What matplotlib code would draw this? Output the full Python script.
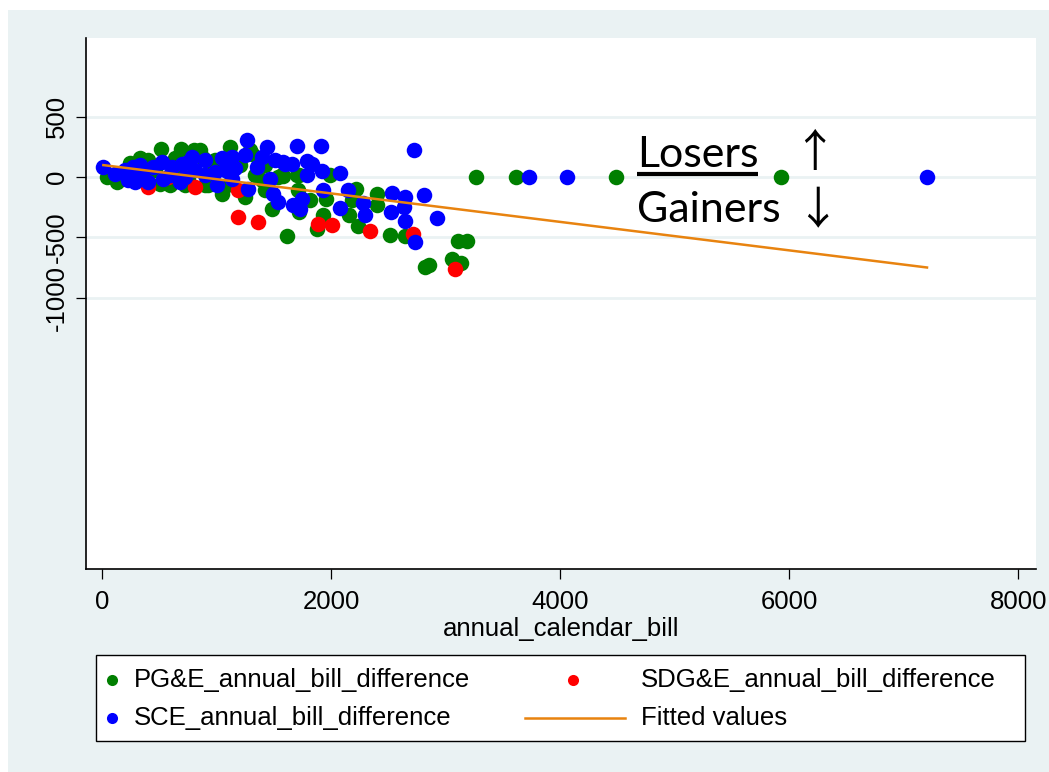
import numpy as np
import matplotlib
matplotlib.use("Agg")
import matplotlib.pyplot as plt
from matplotlib.lines import Line2D
from matplotlib.patches import Rectangle

plt.rcParams['font.family'] = ['Liberation Sans', 'DejaVu Sans']
plt.rcParams['axes.unicode_minus'] = False

# values
pge_x = [38, 126, 126, 199, 242, 329, 372, 402, 418, 461, 504, 510, 591, 634, 635, 685,
         722, 751, 801, 853, 882, 897, 926, 941, 983, 1043, 1087, 1115, 1202, 1246, 1290,
         1305, 1334, 1395, 1421, 1421, 1480, 1537, 1567, 1578, 1611, 1698, 1712, 1721,
         1721, 1814, 1873, 1930, 1954, 1989, 2155, 2178, 2216, 2236, 2397, 2402, 2513,
         2644, 2821, 2856, 3052, 3109, 3133, 3183, 3265, 3614, 4487, 5928]
pge_y = [0, 28, -41, -11, 112, 153, 6, 138, 56, 56, -55, 230, -69, 14, 155, 235,
         -69, -27, 221, 221, 153, -69, -69, 56, 138, -138, -69, 249, 97, -166, 225,
         194, 14, -27, 97, -110, -262, 0, 14, 6, -489, 14, -104, 14,
         -290, -193, -428, -318, -179, 14, -318, -193, -96, -406, -143, -229, -483,
         -492, -743, -732, -677, -527, -713, -527, 0, 0, 0, 0]

sdge_x = [402, 576, 810, 1188, 1188, 1362, 1881, 2009, 2338, 2716, 3083]
sdge_y = [-83, 0, -83, -110, -332, -373, -390, -400, -450, -469, -765]

sce_x = [9, 111, 198, 227, 271, 286, 329, 344, 402, 445, 519, 533, 591, 606, 679, 693,
         722, 751, 781, 810, 897, 897, 984, 999, 1043, 1072, 1130, 1130, 1159, 1246, 1261,
         1275, 1349, 1392, 1436, 1465, 1494, 1508, 1537, 1581, 1593, 1657, 1668, 1703,
         1727, 1742, 1785, 1790, 1829, 1907, 1919, 1930, 2076, 2079, 2149, 2280, 2294,
         2521, 2530, 2638, 2646, 2646, 2722, 2728, 2810, 2921, 3727, 4059, 7203]
sce_y = [83, 28, 56, -27, 83, -41, 97, 41, -41, 83, 124, -13, 14, 83, -41, 111,
         0, 124, 166, 56, 138, 14, 41, -69, 153, 56, 166, -13, 70, 180, 304,
         -96, 83, 166, 249, -13, -138, 138, -207, 124, 111, 111, -235, 257,
         -262, -185, 14, 130, 103, 252, 53, -104, -257, 33, -104, -212, -312,
         -290, -133, -249, -168, -365, 227, -536, -149, -340, 0, 0, 0]

fit_intercept = 99.0
fit_slope = -0.1178

x_ticks = [0, 2000, 4000, 6000, 8000]
y_ticks = [500, 0, -500, -1000]

W, H = 1049, 772
BG = '#EAF2F3'
FS = 18.5


def fx(px):
    return px / W


def fy(py):
    return 1 - py / H


fig = plt.figure(figsize=(W / 100, H / 100), dpi=100)
fig.patch.set_facecolor('white')
fig.add_artist(Rectangle((fx(8), 0), 1, fy(10), transform=fig.transFigure,
                         facecolor=BG, edgecolor='none', zorder=-10))

ax = fig.add_axes([fx(85.6), fy(569), fx(1036) - fx(85.6), fy(38) - fy(569)])
ax.set_facecolor('white')

ax.scatter(pge_x, pge_y, s=125, color='#007F00', linewidths=0, zorder=3)
ax.scatter(sdge_x, sdge_y, s=125, color='#FF0000', linewidths=0, zorder=4)
ax.scatter(sce_x, sce_y, s=125, color='#0000FF', linewidths=0, zorder=5)

all_x = np.array(pge_x + sdge_x + sce_x)
line_x = np.array([all_x.min(), all_x.max()])
ax.plot(line_x, fit_intercept + fit_slope * line_x, color='#E8830F', lw=1.8, zorder=6)

ax.set_xlim(-146, 8155)
ax.set_ylim(-3245, 1150)
ax.set_xticks(x_ticks)
ax.set_yticks(y_ticks)
ax.yaxis.grid(True, color=BG, lw=2)
ax.set_axisbelow(True)

for s in ['top', 'right']:
    ax.spines[s].set_visible(False)
for s in ['left', 'bottom']:
    ax.spines[s].set_linewidth(1.2)

ax.tick_params(axis='both', length=7, width=0.9, labelsize=FS)
ax.tick_params(axis='x', pad=8)
ax.tick_params(axis='y', pad=5)
for lab in ax.get_yticklabels():
    lab.set_rotation(90)
    lab.set_va('center')
ax.set_xlabel('annual_calendar_bill', fontsize=FS, labelpad=2)

# Losers / Gainers annotation
ann_font = ['Lato', 'DejaVu Sans']
arrow_font = ['Noto Sans CJK JP', 'DejaVu Sans']
losers = ax.text(4670, 83, 'Losers', fontsize=31, family=ann_font, va='baseline')
ax.text(4670, -373, 'Gainers', fontsize=31, family=ann_font, va='baseline')
ax.text(6216, 201, '\u2191', fontsize=32, family=arrow_font, ha='center', va='center')
ax.text(6242, -284, '\u2193', fontsize=32, family=arrow_font, ha='center', va='center')

fig.canvas.draw()
bb = losers.get_window_extent()
inv = ax.transData.inverted()
ux0 = inv.transform((bb.x0, 0))[0]
ux1 = inv.transform((bb.x1, 0))[0]
ax.plot([ux0, ux1], [28, 28], color='black', lw=3, solid_capstyle='butt', zorder=7)

# legend box drawn in figure coordinates
fig.add_artist(Rectangle((fx(96), fy(741)), fx(1025) - fx(96), fy(655) - fy(741),
                         transform=fig.transFigure, facecolor='white',
                         edgecolor='black', lw=1))
leg_items = [
    (112, 680, 'marker', '#007F00', 134, 'PG&E_annual_bill_difference'),
    (573, 680, 'marker', '#FF0000', 641, 'SDG&E_annual_bill_difference'),
    (112, 718, 'marker', '#0000FF', 134, 'SCE_annual_bill_difference'),
    (575, 718, 'line', '#E8830F', 641, 'Fitted values'),
]
for kx, ky, kind, col, tx, label in leg_items:
    if kind == 'marker':
        fig.add_artist(Line2D([fx(kx)], [fy(ky)], transform=fig.transFigure,
                              marker='o', ms=8, color=col, mew=0, ls='none'))
    else:
        fig.add_artist(Line2D([fx(kx - 50), fx(kx + 50)], [fy(ky), fy(ky)],
                              transform=fig.transFigure, color=col, lw=1.8))
    fig.text(fx(tx), fy(ky), label, fontsize=FS, va='center', ha='left')

fig.savefig('out.png', dpi=100, facecolor=fig.get_facecolor())
